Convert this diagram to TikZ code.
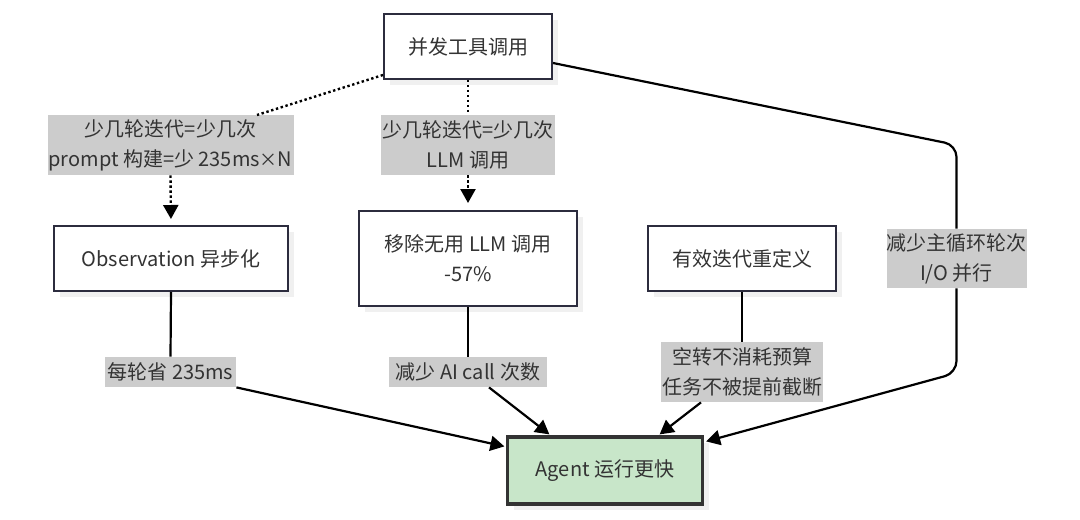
\documentclass[tikz,border=0pt]{standalone}
\usepackage{fontspec}
\setmainfont{Noto Sans CJK SC}
\usetikzlibrary{arrows.meta, shadows, calc}
\definecolor{boxline}{RGB}{44, 44, 62}
\definecolor{lblgray}{RGB}{204, 204, 204}
\definecolor{txtgray}{RGB}{51, 51, 51}
\definecolor{agentgreen}{RGB}{200, 230, 201}
\definecolor{agentline}{RGB}{51, 51, 51}
\tikzset{>={Triangle[length=7pt, width=7.5pt]}}
\tikzset{
  stepbox/.style = {draw = boxline, line width = 1pt, fill = white, text = txtgray, align = center, inner sep = 0pt,
    drop shadow = {shadow xshift = 3pt, shadow yshift = -3pt, fill = black!6, opacity = 1}},
  lbl/.style = {fill = lblgray, text = txtgray, align = center, inner sep = 0pt},
  link/.style = {line width = 1.1pt, black},
  dotlink/.style = {line width = 1.2pt, black, dash pattern = on 1.2pt off 1.3pt}
}

\begin{document}
\begin{tikzpicture}[x = 0.5pt, y = -0.5pt, font = \fontsize{10}{15}\selectfont]
\useasboundingbox (0, 0) rectangle (1080, 519);

\node[stepbox, minimum width = 84pt, minimum height = 32.5pt] (top) at (468, 46.5) {并发工具调用};
\node[lbl, minimum width = 123pt, minimum height = 30pt] (lbl1) at (170.5, 145) {少几轮迭代=少几次\\prompt 构建=少 235ms{\small ×}N};
\node[lbl, minimum width = 87pt, minimum height = 30pt] (lbl2) at (468, 145) {少几轮迭代=少几次\\LLM 调用};
\node[stepbox, minimum width = 117pt, minimum height = 32.5pt] (obs) at (171, 258.5) {Observation 异步化};
\node[stepbox, minimum width = 109pt, minimum height = 47.5pt] (mid) at (468, 258.5) {移除无用 LLM 调用\\-57\%};
\node[stepbox, minimum width = 94pt, minimum height = 32.5pt] (eff) at (742, 258.5) {有效迭代重定义};
\node[lbl, minimum width = 70pt, minimum height = 29.5pt] (rlbl) at (956.5, 258.5) {减少主循环轮次\\I/O 并行};
\node[lbl, minimum width = 65.5pt, minimum height = 15pt] (b1) at (170.5, 372) {每轮省 235ms};
\node[lbl, minimum width = 79pt, minimum height = 15pt] (b2) at (468, 372) {减少 AI call 次数};
\node[lbl, minimum width = 81pt, minimum height = 30pt] (b3) at (742, 372) {空转不消耗预算\\任务不被提前截断};
\node[stepbox, draw = agentline, fill = agentgreen, line width = 1.6pt, minimum width = 97.5pt, minimum height = 33.5pt] (agent) at (605, 470.5) {Agent 运行更快};

\coordinate (k1) at (257, 115);
\coordinate (r1) at (956.5, 145);
\coordinate (r2) at (956.5, 373);

\draw[dotlink] ($(top.south west) + (0, -5)$) -- (k1);
\draw[dotlink, ->, shorten >= 3pt] (lbl1.south) -- (obs.north);
\draw[dotlink] (top.south) -- (lbl2.north);
\draw[dotlink, ->, shorten >= 3.5pt] (lbl2.south) -- (mid.north);

\draw[link, rounded corners = 6pt] ($(top.east) + (0, 16.5)$) -- (r1) -- (rlbl.north);
\draw[link, ->, rounded corners = 6pt] (rlbl.south) -- (r2) -- ($(agent.north east) + (2, 6)$);

\draw[link] (obs.south) -- (b1.north);
\draw[link, ->] (b1.south east) -- ($(agent.north west) + (-1.5, 11)$);
\draw[link] (mid.south) -- (b2.north);
\draw[link, ->] ($(b2.south) + (21, 0)$) -- ($(agent.north west) + (43.5, -1)$);
\draw[link] (eff.south) -- (b3.north);
\draw[link, ->] ($(b3.south) + (-41, 0)$) -- ($(agent.north east) + (-44.5, -1)$);
\end{tikzpicture}
\end{document}
